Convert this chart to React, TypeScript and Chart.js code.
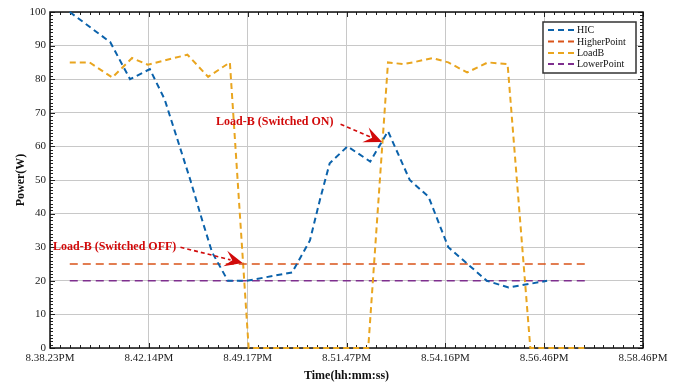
import React, { useEffect, useRef } from "react";
import { Chart, registerables } from "chart.js";

Chart.register(...registerables);

// ---- data ----
const timeLabels = ["8.38.23PM", "8.42.14PM", "8.49.17PM", "8.51.47PM", "8.54.16PM", "8.56.46PM", "8.58.46PM"];

const hicX = [0.2, 0.61, 0.81, 1.01, 1.16, 1.42, 1.54, 1.64, 1.8, 1.99, 2.45, 2.63, 2.73, 2.83, 3.01, 3.24, 3.42, 3.64, 3.83, 4.03, 4.42, 4.64, 5.03];
const hicY = [100, 91, 80, 83, 74, 50, 38, 28.5, 20, 20, 22.5, 32, 44, 55, 60, 55.5, 64.5, 50, 45, 30, 20, 18, 20];

const loadBX = [0.2, 0.4, 0.63, 0.83, 0.99, 1.39, 1.6, 1.82, 2.01, 3.22, 3.42, 3.57, 3.67, 3.87, 4.03, 4.22, 4.43, 4.63, 4.86, 5.41];
const loadBY = [85, 85, 80.5, 86.3, 84.3, 87.3, 80.7, 85, 0, 0, 85, 84.5, 85, 86.3, 85, 82, 85, 84.5, 0, 0];

const higherX = [0.2, 5.42];
const higherY = [25, 25];
const lowerX = [0.2, 5.42];
const lowerY = [20, 20];

const seriesNames = ["HIC", "HigherPoint", "LoadB", "LowerPoint"];

const annTexts = ["Load-B (Switched ON)", "Load-B (Switched OFF)"];
const annTextX = [1.68, 0.03];
const annTextY = [67.3, 30];
const annArrowFromX = [2.94, 1.32];
const annArrowFromY = [66.6, 30];
const annArrowToX = [3.36, 1.95];
const annArrowToY = [61.3, 25.3];

const COLORS = ["#0b62ab", "#d95319", "#e9a51f", "#7e2f8e"];
const RED = "#d10a0a";
const SERIF = "'Liberation Serif', 'Times New Roman', serif";

const zip = (xs: number[], ys: number[]) => xs.map((x, i) => ({ x, y: ys[i] }));

function drawArrow(ctx: CanvasRenderingContext2D, x0: number, y0: number, x1: number, y1: number) {
  const dx = x1 - x0, dy = y1 - y0;
  const len = Math.hypot(dx, dy);
  const ux = dx / len, uy = dy / len;
  const nx = -uy, ny = ux;
  const L = 18, W = 8;
  ctx.strokeStyle = RED;
  ctx.fillStyle = RED;
  ctx.lineWidth = 1.6;
  ctx.setLineDash([4, 3]);
  ctx.beginPath();
  ctx.moveTo(x0, y0);
  ctx.lineTo(x1 - ux * L * 0.7, y1 - uy * L * 0.7);
  ctx.stroke();
  ctx.setLineDash([]);
  ctx.beginPath();
  ctx.moveTo(x1, y1);
  ctx.lineTo(x1 - ux * L + nx * W, y1 - uy * L + ny * W);
  ctx.lineTo(x1 - ux * L * 0.6, y1 - uy * L * 0.6);
  ctx.lineTo(x1 - ux * L - nx * W, y1 - uy * L - ny * W);
  ctx.closePath();
  ctx.fill();
}

const decorPlugin = {
  id: "decor",
  beforeDatasetsDraw(chart: any) {
    const { ctx, chartArea, scales } = chart;
    const { left, right, top, bottom } = chartArea;
    const xs = scales.x, ys = scales.y;
    ctx.save();
    // minor / major ticks (inward)
    ctx.strokeStyle = "#222";
    ctx.lineWidth = 1;
    ctx.setLineDash([]);
    ctx.beginPath();
    for (let v = 0; v <= 100; v += 1) {
      const py = Math.round(ys.getPixelForValue(v)) + 0.5;
      const l = v % 10 === 0 ? 5 : 3;
      ctx.moveTo(left, py); ctx.lineTo(left + l, py);
      ctx.moveTo(right, py); ctx.lineTo(right - l, py);
    }
    for (let i = 0; i <= 60; i++) {
      const px = Math.round(xs.getPixelForValue(i / 10)) + 0.5;
      const l = i % 10 === 0 ? 5 : 3;
      ctx.moveTo(px, bottom); ctx.lineTo(px, bottom - l);
      ctx.moveTo(px, top); ctx.lineTo(px, top + l);
    }
    ctx.stroke();
    // frame
    ctx.lineWidth = 1.5;
    ctx.strokeStyle = "#111";
    ctx.strokeRect(left, top, right - left, bottom - top);
    ctx.restore();
  },
  afterDatasetsDraw(chart: any) {
    const { ctx, chartArea, scales } = chart;
    const { right, top } = chartArea;
    const xs = scales.x, ys = scales.y;
    ctx.save();

    // annotations
    for (let i = 0; i < annTexts.length; i++) {
      ctx.font = `bold 12px ${SERIF}`;
      ctx.fillStyle = RED;
      ctx.textAlign = "left";
      ctx.textBaseline = "middle";
      ctx.fillText(annTexts[i], xs.getPixelForValue(annTextX[i]), ys.getPixelForValue(annTextY[i]));
      drawArrow(
        ctx,
        xs.getPixelForValue(annArrowFromX[i]),
        ys.getPixelForValue(annArrowFromY[i]),
        xs.getPixelForValue(annArrowToX[i]),
        ys.getPixelForValue(annArrowToY[i])
      );
    }

    // legend
    const bx = right - 100, by = top + 10, bw = 93, bh = 51;
    ctx.fillStyle = "#fff";
    ctx.fillRect(bx, by, bw, bh);
    ctx.lineWidth = 1.5;
    ctx.strokeStyle = "#333";
    ctx.strokeRect(bx, by, bw, bh);
    const rows = [8, 19.5, 31, 42];
    chart.data.datasets.forEach((ds: any, i: number) => {
      const ry = by + rows[i];
      ctx.strokeStyle = ds.borderColor;
      ctx.lineWidth = 2;
      ctx.setLineDash([6, 4]);
      ctx.beginPath();
      ctx.moveTo(bx + 5, ry);
      ctx.lineTo(bx + 31, ry);
      ctx.stroke();
      ctx.setLineDash([]);
      ctx.fillStyle = "#111";
      ctx.font = `10px ${SERIF}`;
      ctx.textAlign = "left";
      ctx.textBaseline = "middle";
      ctx.fillText(ds.label, bx + 34, ry + 0.5);
    });

    ctx.restore();
  },
};

export default function App() {
  const ref = useRef<HTMLCanvasElement | null>(null);

  useEffect(() => {
    document.body.style.margin = "0";
    const canvas = ref.current!;
    const chart = new Chart(canvas, {
      type: "line",
      data: {
        datasets: [
          { label: seriesNames[0], data: zip(hicX, hicY), borderColor: COLORS[0], borderWidth: 2, borderDash: [6, 4], clip: 4 },
          { label: seriesNames[1], data: zip(higherX, higherY), borderColor: COLORS[1], borderWidth: 1.6, borderDash: [8, 5], clip: 4 },
          { label: seriesNames[2], data: zip(loadBX, loadBY), borderColor: COLORS[2], borderWidth: 2, borderDash: [6, 4], clip: 4 },
          { label: seriesNames[3], data: zip(lowerX, lowerY), borderColor: COLORS[3], borderWidth: 1.6, borderDash: [8, 5], clip: 4 },
        ] as any,
      },
      options: {
        animation: false,
        responsive: false,
        parsing: false as any,
        elements: { point: { radius: 0 }, line: { tension: 0, fill: false } },
        layout: { padding: { top: 12, right: 38, left: 0, bottom: 0 } },
        plugins: { legend: { display: false }, tooltip: { enabled: false } },
        scales: {
          x: {
            type: "linear",
            min: 0,
            max: 6,
            afterFit: (s: any) => { s.height = 38; },
            ticks: {
              stepSize: 1,
              padding: 4,
              maxRotation: 0,
              autoSkip: false,
              color: "#222",
              font: { family: SERIF, size: 11 },
              callback: (v: any) => timeLabels[Math.round(Number(v))] ?? "",
            },
            grid: { color: "#c8c8c8", lineWidth: 1, drawTicks: false },
            border: { display: false },
            title: {
              display: true,
              text: "Time(hh:mm:ss)",
              color: "#111",
              font: { family: SERIF, size: 12, weight: "bold" },
              padding: { top: 0, bottom: 3 },
            },
          },
          y: {
            min: 0,
            max: 100,
            afterFit: (s: any) => { s.width = 50; },
            ticks: {
              stepSize: 10,
              padding: 4,
              color: "#222",
              font: { family: SERIF, size: 11 },
            },
            grid: { color: "#c8c8c8", lineWidth: 1, drawTicks: false },
            border: { display: false },
            title: {
              display: true,
              text: "Power(W)",
              color: "#111",
              font: { family: SERIF, size: 12, weight: "bold" },
              padding: { top: 14, bottom: 0 },
            },
          },
        },
      } as any,
      plugins: [decorPlugin],
    });
    return () => chart.destroy();
  }, []);

  return (
    <div style={{ position: "absolute", left: 0, top: 0, width: 681, height: 386, background: "#fff" }}>
      <canvas ref={ref} width={681} height={386} style={{ display: "block" }} />
    </div>
  );
}
